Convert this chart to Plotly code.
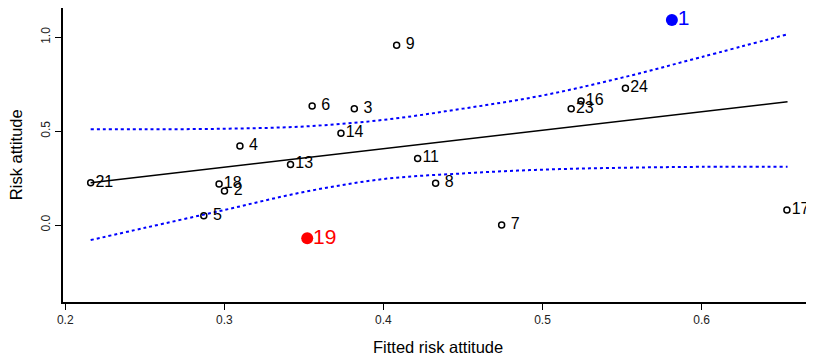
import plotly.graph_objects as go

# Data
ids = ["21", "4", "13", "18", "2", "5", "19", "14", "6", "3", "9", "11", "8", "7", "23", "16", "24", "1", "17"]
fitted = [0.216, 0.3098, 0.3416, 0.2967, 0.3001, 0.2871, 0.3521, 0.3733, 0.3552, 0.3817,
          0.4083, 0.4215, 0.4328, 0.4743, 0.518, 0.5242, 0.5521, 0.5813, 0.6536]
risk = [0.225, 0.421, 0.323, 0.218, 0.181, 0.050, -0.071, 0.4885, 0.634, 0.620,
        0.957, 0.355, 0.222, 0.0, 0.620, 0.661, 0.728, 1.092, 0.080]

highlight = {"1": "#0000FF", "19": "#FF0000"}

fit_x = [0.216, 0.654]
fit_y = [0.225, 0.657]

ci_x = [0.216, 0.25, 0.30, 0.35, 0.40, 0.45, 0.50, 0.55, 0.60, 0.654]
ci_upper = [0.51, 0.51, 0.513, 0.525, 0.56, 0.62, 0.69, 0.785, 0.895, 1.016]
ci_lower = [-0.08, -0.015, 0.08, 0.176, 0.245, 0.275, 0.295, 0.305, 0.31, 0.311]

x_ticks = [0.2, 0.3, 0.4, 0.5, 0.6]
y_ticks = [0.0, 0.5, 1.0]

FONT = "Liberation Sans, Arial, sans-serif"

fig = go.Figure()

fig.add_trace(go.Scatter(x=ci_x, y=ci_upper, mode="lines",
                         line=dict(color="#0000FF", width=2, dash="dot", shape="spline"),
                         hoverinfo="skip"))
fig.add_trace(go.Scatter(x=ci_x, y=ci_lower, mode="lines",
                         line=dict(color="#0000FF", width=2, dash="dot", shape="spline"),
                         hoverinfo="skip"))
fig.add_trace(go.Scatter(x=fit_x, y=fit_y, mode="lines",
                         line=dict(color="black", width=1.5), hoverinfo="skip"))

nx, ny, nt = [], [], []
for i, xv, yv in zip(ids, fitted, risk):
    if i in highlight:
        continue
    nx.append(xv)
    ny.append(yv)
    nt.append(("\u00a0" + i) if len(i) == 1 else i)

fig.add_trace(go.Scatter(
    x=nx, y=ny, mode="markers+text", text=nt, textposition="middle right",
    textfont=dict(family=FONT, size=16, color="black"), cliponaxis=False,
    marker=dict(symbol="circle-open", size=6, color="black", line=dict(width=1.5))))

for i, xv, yv in zip(ids, fitted, risk):
    if i in highlight:
        fig.add_trace(go.Scatter(
            x=[xv], y=[yv], mode="markers",
            marker=dict(symbol="circle", size=12, color=highlight[i])))
        fig.add_trace(go.Scatter(
            x=[xv], y=[yv], mode="text", text=["\u00a0" + i], textposition="middle right",
            textfont=dict(family=FONT, size=21, color=highlight[i]), cliponaxis=False))

# The page body adds an 8px margin, so the figure is sized to fit inside the window
fig.update_layout(
    width=806, height=347,
    margin=dict(l=55, r=1, t=0, b=53, autoexpand=False),
    paper_bgcolor="white", plot_bgcolor="white",
    showlegend=False,
    font=dict(family=FONT, color="black"),
    xaxis=dict(range=[0.1986, 0.670], tickvals=x_ticks, ticktext=[f"{v:.1f}" for v in x_ticks],
               showgrid=False, zeroline=False, showline=True, linecolor="black", linewidth=1.5,
               mirror=True, ticks="outside", ticklen=6, tickcolor="black", automargin=False,
               tickfont=dict(size=12, color="#222")),
    yaxis=dict(range=[-0.410, 1.156], tickvals=y_ticks, ticktext=[f"{v:.1f}" for v in y_ticks],
               showgrid=False, zeroline=False, showline=True, linecolor="black", linewidth=1.5,
               mirror=True, ticks="outside", ticklen=6, tickcolor="black", tickangle=-90,
               automargin=False, tickfont=dict(size=12, color="#222")),
    annotations=[
        dict(text="Fitted risk attitude", xref="paper", yref="paper", x=0.5, y=-0.153,
             showarrow=False, yanchor="middle", font=dict(size=16.5)),
        dict(text="Risk attitude", xref="paper", yref="paper", x=-0.0625, y=0.5,
             showarrow=False, xanchor="center", textangle=-90, font=dict(size=16.5)),
    ],
)

fig.write_html("out.html")
